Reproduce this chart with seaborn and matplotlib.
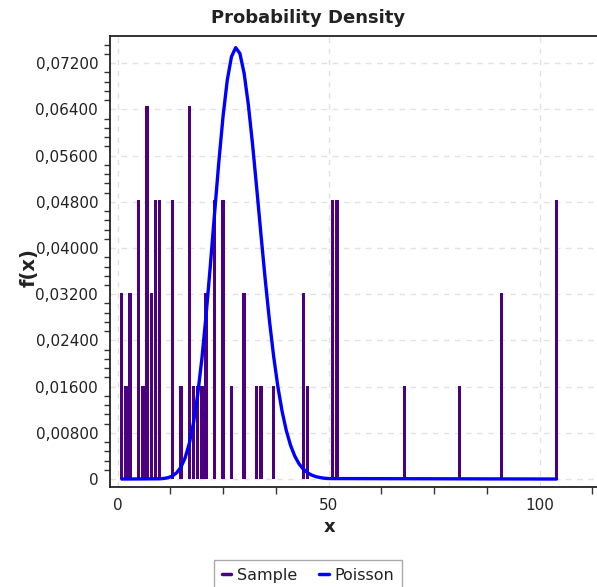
import matplotlib
matplotlib.use("Agg")
import matplotlib.pyplot as plt
from matplotlib.ticker import MultipleLocator, FuncFormatter
from matplotlib.lines import Line2D
import numpy as np
import seaborn as sns

# Observed sample (62 integer observations)
sample_values = [1, 2, 3, 5, 6, 7, 8, 9, 10, 13, 15, 17, 18, 19, 20, 21,
                 23, 25, 27, 30, 33, 34, 37, 44, 45, 51, 52, 68, 81, 91, 104]
sample_counts = [2, 1, 2, 3, 1, 4, 2, 3, 3, 3, 1, 4, 1, 1, 1, 2,
                 3, 3, 1, 2, 1, 1, 1, 2, 1, 3, 3, 1, 1, 2, 3]
sample = np.repeat(sample_values, sample_counts)

# Fitted Poisson probabilities
poisson_x = [1] + list(range(10, 51)) + [104]
poisson_y = [0.0,
             0.00004, 0.00010, 0.00024, 0.00052, 0.00107, 0.00203, 0.00364,
             0.00612, 0.00972, 0.01463, 0.02092, 0.02849, 0.03703, 0.04605,
             0.05487, 0.06277, 0.06905, 0.07314, 0.07471, 0.07368, 0.07024,
             0.06480, 0.05792, 0.05020, 0.04223, 0.03451, 0.02741, 0.02119,
             0.01595, 0.01170, 0.00836, 0.00583, 0.00397, 0.00264, 0.00172,
             0.00109, 0.00068, 0.00041, 0.00025, 0.00014, 0.00008,
             0.0]

y_ticks = [0, 0.008, 0.016, 0.024, 0.032, 0.040, 0.048, 0.056, 0.064, 0.072]
x_ticks = [0, 50, 100]

sample_color = "#4B0082"
poisson_color = "#0000FF"
text_color = "#222222"

sns.set_style("white")
plt.rcParams["font.family"] = ["DejaVu Sans"]

fig = plt.figure(figsize=(5.97, 5.87), dpi=100)
ax = fig.add_axes([110 / 597, 1 - 487 / 587, 1 - 110 / 597, (487 - 35.7) / 587])

sns.histplot(x=sample, discrete=True, stat="probability", shrink=0.8,
             color=sample_color, alpha=1, linewidth=0, ax=ax, zorder=2)
sns.lineplot(x=poisson_x, y=poisson_y, color=poisson_color, linewidth=2.4,
             ax=ax, zorder=3)

ax.set_xlim(-1.78, 113.6)
ax.set_ylim(-0.00138, 0.07677)

ax.set_yticks(y_ticks)
ax.yaxis.set_minor_locator(MultipleLocator(0.0016))
ax.set_xticks(x_ticks)
ax.xaxis.set_minor_locator(MultipleLocator(12.5))


def comma_fmt(v, pos):
    if abs(v) < 1e-12:
        return "0"
    return f"{v:.5f}".replace(".", ",")


ax.yaxis.set_major_formatter(FuncFormatter(comma_fmt))

ax.tick_params(axis="y", which="major", direction="out", length=7, width=1,
               color="#333333", labelsize=11, labelcolor=text_color, pad=1.5)
ax.tick_params(axis="y", which="minor", direction="out", length=4, width=1,
               color="#333333", left=True)
ax.tick_params(axis="x", which="major", direction="out", length=5, width=1,
               color="#333333", labelsize=11, labelcolor=text_color, pad=3)
ax.tick_params(axis="x", which="minor", direction="out", length=5, width=1,
               color="#333333", bottom=True)

ax.grid(True, which="major", color="#e2e2e2", linestyle=(0, (4, 4)),
        linewidth=1, zorder=0)
ax.set_axisbelow(True)

for side in ["left", "top", "bottom"]:
    ax.spines[side].set_visible(True)
    ax.spines[side].set_color("#222222")
    ax.spines[side].set_linewidth(1.3)
ax.spines["right"].set_visible(False)

ax.set_xlabel("x", fontsize=13, fontweight="bold", color=text_color)
ax.xaxis.set_label_coords((330 - 110) / 487, -(518 - 487) / 451.3)
ax.set_ylabel("f(x)", fontsize=14, fontweight="bold", color=text_color)
ax.yaxis.set_label_coords(-(110 - 39) / 487, (487 - 268) / 451.3)

fig.text(308 / 597, 1 - 18 / 587, "Probability Density", ha="center",
         va="center", fontsize=13, fontweight="bold", color=text_color)

handles = [Line2D([0], [0], color=sample_color, linewidth=2.5),
           Line2D([0], [0], color=poisson_color, linewidth=2.5)]
fig.legend(handles, ["Sample", "Poisson"], loc="upper center",
           bbox_to_anchor=(308 / 597, 1 - 560 / 587), ncol=2, fontsize=11.5,
           frameon=True, fancybox=False, edgecolor="#aaaaaa", framealpha=1,
           handlelength=0.6, handletextpad=0.35, columnspacing=1.4,
           borderpad=0.5, borderaxespad=0, labelcolor=text_color)

fig.savefig("out.png", dpi=100)
